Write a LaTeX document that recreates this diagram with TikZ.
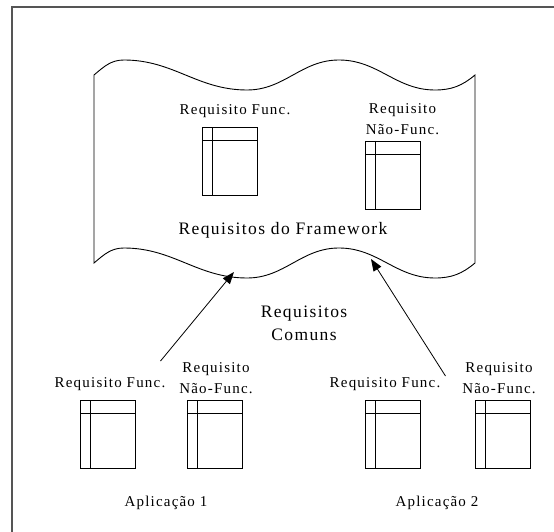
\documentclass[tikz,border=0pt]{standalone}
\usepackage{fontspec}
\setmainfont{Liberation Serif}
\newfontfamily\reqfont[LetterSpace=8]{Liberation Serif}
\usepackage{tikz}
\usetikzlibrary{arrows.meta, positioning}
\definecolor{framecolor}{RGB}{85, 85, 85}

\begin{document}
\begin{tikzpicture}[
    x=1pt, y=1pt,
    reqdoc/.style={draw, line width=0.9pt, minimum width=55pt, minimum height=68pt, inner sep=0pt,
        path picture={
            \draw[line width=0.9pt] ([xshift=10pt]path picture bounding box.north west) -- ([xshift=10pt]path picture bounding box.south west);
            \draw[line width=0.9pt] ([yshift=-13pt]path picture bounding box.north west) -- ([yshift=-13pt]path picture bounding box.north east);
        }},
    reqlabel/.style={font=\reqfont\fontsize{15}{21}\selectfont, align=center, inner sep=1pt},
    biglabel/.style={font=\reqfont\fontsize{17.5}{23}\selectfont, align=center, inner sep=1pt},
    arrow/.style={-{Triangle[length=12pt, width=9pt]}, line width=0.8pt},
    tape/.style={draw, line width=0.9pt},
    frame/.style={draw=framecolor, line width=2pt}
]
    \useasboundingbox (0,0) rectangle (554,531);
    \clip (0,0) rectangle (554,531);
    % Outer frame (runs on past the right and bottom edges)
    \draw[frame] (12,-20) -- (12,524) -- (580,524);

    % Framework tape
    \draw[tape] (94,456) to[out=40,in=180] (124,471) to[out=0,in=180] (247,441)
        to[out=0,in=180] (339,471) to[out=0,in=180] (435,441) to[out=0,in=220] (475,456)
        -- (475,268) to[out=220,in=0] (435,253) to[out=180,in=0] (339,283)
        to[out=180,in=0] (247,253) to[out=180,in=0] (124,283) to[out=180,in=40] (94,268) -- cycle;
    \coordinate (tipl) at (234,259);
    \coordinate (tipr) at (371,272);

    % Framework requirements
    \node[reqdoc] (fbox1) at (229.5,369.5) {};
    \node[reqdoc] (fbox2) at (392.5,356) {};
    \node[reqlabel, above=8pt of fbox1, xshift=5.5pt] (ffunc) {Requisito Func.};
    \node[reqlabel, above=4.5pt of fbox2, xshift=10pt] (fnfunc) {Requisito\\Não-Func.};
    \node[biglabel] (framework) at (283,301) {Requisitos do Framework};

    % Application requirements
    \node[reqdoc] (abox1) at (107.5,97) {};
    \node[reqdoc] (abox2) at (215,97) {};
    \node[reqdoc] (abox3) at (392.5,97) {};
    \node[reqdoc] (abox4) at (502.5,97) {};
    \node[reqlabel, above=8pt of abox1, xshift=2.5pt] (afunc1) {Requisito Func.};
    \node[reqlabel, above=4.5pt of abox2, xshift=1pt] (anfunc1) {Requisito\\Não-Func.};
    \node[reqlabel, above=8pt of abox3, xshift=-7.5pt] (afunc2) {Requisito Func.};
    \node[reqlabel, above=4.5pt of abox4, xshift=-3.5pt] (anfunc2) {Requisito\\Não-Func.};
    \node[reqlabel] (app1) at (166,28) {Aplicação 1};
    \node[reqlabel] (app2) at (437,28) {Aplicação 2};

    % Common requirements
    \node[biglabel] (common) at (304,207.5) {Requisitos\\Comuns};
    \draw[arrow] ([shift={(-6pt,15pt)}]afunc1.north east) -- (tipl);
    \draw[arrow] ([shift={(4pt,0pt)}]afunc2.north east) -- (tipr);
\end{tikzpicture}
\end{document}
